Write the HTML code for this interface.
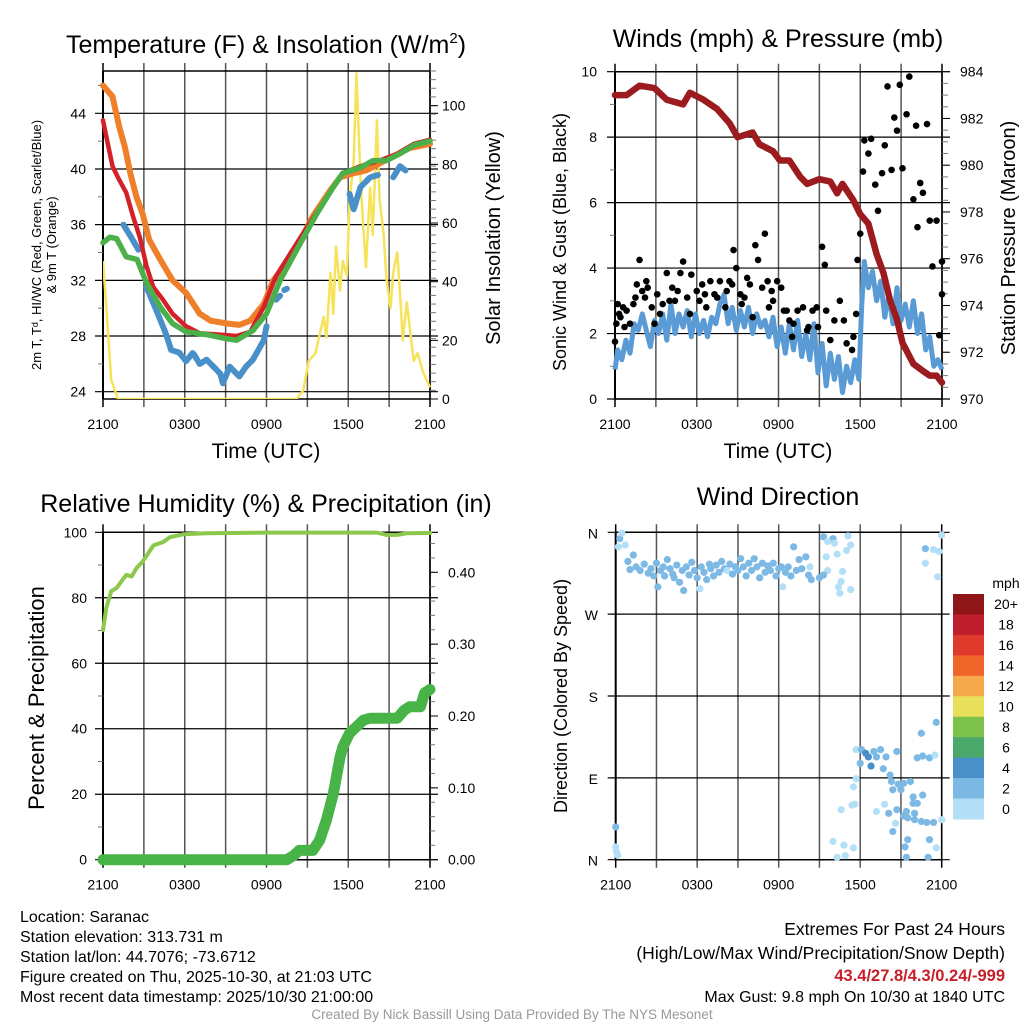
<!DOCTYPE html>
<html><head><meta charset="utf-8"><style>
html,body{margin:0;padding:0;background:#fff}
svg{display:block;font-family:"Liberation Sans",sans-serif}
</style></head><body>
<svg id="s" width="1024" height="1024" viewBox="0 0 1024 1024">
<rect width="1024" height="1024" fill="#fff"/>
<g id="g"></g>
</svg>
<script>
// ---- data (hours after 2100 UTC) ----
const timeLabels=["2100","0300","0900","1500","2100"];
const tempTicks=[24,28,32,36,40,44];
const solarTicks=[0,20,40,60,80,100];
const windTicks=[0,2,4,6,8,10];
const presTicks=[970,972,974,976,978,980,982,984];
const rhTicks=[0,20,40,60,80,100];
const precipTicks=["0.00","0.10","0.20","0.30","0.40"];
const dirLabels=["N","W","S","E","N"];
const legendLabels=["20+","18","16","14","12","10","8","6","4","2","0"];

const orangeH=[0,0.7,1.2,1.6,2.0,2.45,2.9,3.4,4.2,5.1,6.1,7.1,7.9,9.1,10.0,10.8,11.8,12.5,13.5,14.5,15.4,16.7,17.4,18.4,19.3,20.3,21.3,22.5,24];
const orangeT=[46.0,45.2,43.0,41.6,39.7,38.0,36.8,34.9,33.5,32.0,31.1,29.6,29.1,28.9,28.8,29.1,30.3,32.0,33.2,34.9,36.6,38.5,39.4,39.7,39.9,40.4,40.9,41.5,41.8];
const redH=[0,0.25,0.7,1.2,1.7,2.2,2.7,3.2,3.7,4.4,5.1,6.1,7.1,8.6,9.8,10.8,11.8,12.7,14.5,16.9,17.6,18.9,20.3,21.6,22.8,24];
const redT=[43.5,42.3,40.2,39.2,38.3,36.6,35.1,33.0,31.5,30.6,29.6,28.7,28.2,28.1,28.0,28.3,30.1,32.3,35.1,38.7,39.7,40.2,40.6,41.1,41.8,42.1];
const greenH=[0,0.5,1.0,1.7,2.5,3.2,4.2,5.1,6.1,7.6,9.1,9.8,11.0,12.0,13.0,14.5,15.7,16.9,17.6,18.9,19.8,20.8,21.8,22.8,24];
const greenT=[34.7,35.1,35.0,33.7,33.5,31.8,30.1,28.9,28.3,28.1,27.8,27.7,28.4,29.6,32.0,34.7,36.8,38.7,39.7,40.1,40.6,40.6,41.1,41.7,42.0];
const blueH=[1.5,2.0,2.6,null,3.2,3.9,4.6,5.0,5.6,6.1,6.6,7.1,7.6,8.1,8.6,8.8,9.3,10.0,10.5,11.0,11.8,12.0,null,12.7,13.0,null,13.3,13.5,null,18.1,18.4,18.9,19.6,20.3,null,21.3,21.8,22.2];
const blueT=[36.0,35.2,34.2,null,31.5,29.9,28.2,27.0,26.8,26.2,26.8,26.0,26.3,25.8,25.3,24.6,25.8,25.1,25.8,26.3,27.7,28.7,null,30.6,30.9,null,31.3,31.4,null,38.2,37.1,38.7,39.4,39.6,null,39.4,40.2,39.9];
const solarH=[0,0.25,0.6,1.1,14.2,14.7,15.1,15.6,15.9,16.2,16.4,16.7,16.9,17.1,17.4,17.6,17.9,18.1,18.4,18.6,18.9,19.1,19.3,19.6,19.8,20.1,20.3,20.6,20.8,21.1,21.3,21.6,21.8,22.0,22.3,22.8,23.1,23.5,24];
const solarV=[47,31,6.5,0,0,3,13,15.6,22,28,21,43,29,52,37,47,42,68,81,111,75,59,45,72,56,95,68,56,41,31,43,50,36,20,33,13,15.6,9,4];

const presH=[0,0.85,1.8,2.9,3.8,5.0,5.5,6.5,7.5,8.4,9.0,10.1,10.6,11.6,12.1,12.8,13.6,14.1,15.0,15.8,16.3,16.7,17.5,18.0,18.6,19.2,19.7,20.2,20.7,21.1,21.9,22.6,23.1,23.6,24];
const presV=[983.0,983.0,983.4,983.3,982.8,982.6,983.1,982.8,982.4,981.8,981.2,981.4,980.9,980.6,980.2,980.2,979.5,979.2,979.4,979.3,978.8,979.2,978.5,977.9,977.5,976.2,975.4,974.2,973.4,972.4,971.5,971.2,971.0,971.0,970.7];
const windH=[0,0.2,0.5,0.8,1.1,1.4,1.7,2.0,2.3,2.6,2.9,3.2,3.5,3.8,4.1,4.4,4.7,5.0,5.3,5.6,5.9,6.2,6.5,6.8,7.1,7.4,7.7,8.0,8.3,8.6,8.9,9.2,9.5,9.8,10.1,10.4,10.7,11.0,11.3,11.6,11.9,12.2,12.5,12.8,13.1,13.4,13.7,14.0,14.3,14.6,14.9,15.2,15.5,15.8,16.1,16.4,16.7,17.0,17.3,17.6,17.9,18.1,18.3,18.6,18.9,19.2,19.5,19.8,20.1,20.4,20.7,21.0,21.3,21.6,21.9,22.2,22.5,22.8,23.1,23.4,23.7,24];
const windV=[0.9,1.5,1.2,1.8,1.4,2.3,2.1,2.6,2.1,1.6,2.4,2.0,2.6,1.8,2.9,2.0,2.6,2.2,2.7,1.9,2.6,2.0,2.4,1.9,2.5,2.3,2.9,3.2,2.3,2.8,2.1,2.7,2.2,2.8,2.0,2.6,2.2,2.4,1.9,2.5,1.6,2.2,1.4,2.3,1.5,2.4,1.3,2.0,1.2,2.3,0.8,1.7,0.4,1.4,0.6,1.3,0.2,1.0,0.5,1.2,0.6,2.8,4.2,3.4,3.9,3.0,3.6,2.5,3.2,2.3,3.4,2.4,2.9,2.2,3.0,2.0,2.6,1.5,1.9,1.0,1.2,0.9];
const gustH=[0,0.1,0.2,0.4,0.6,0.85,1.1,1.35,1.6,1.8,2.0,2.2,2.4,2.7,2.9,3.1,3.3,3.8,4.0,4.4,4.6,4.8,5.0,5.3,5.6,6.0,6.2,6.6,6.7,7.0,7.3,7.7,8.1,8.2,8.4,8.7,8.9,9.2,9.5,9.7,9.9,10.3,10.5,10.8,11.0,11.2,11.5,11.6,11.9,12.2,12.6,12.8,13.1,13.4,13.8,14.1,14.2,14.5,14.8,14.9,15.2,15.4,15.5,15.8,16.1,16.5,16.8,17.0,17.4,17.5,17.7,17.8,18.0,18.2,18.3,18.6,18.8,19.1,19.3,19.6,19.8,20.0,20.3,20.5,20.7,20.9,21.1,21.4,21.6,21.9,22.1,22.2,22.4,22.6,22.9,23.1,23.3,23.6,23.8,24,24,0.3,0.7,1.5,2.3,3.5,4.2,5.5,6.4,7.5,8.6,9.3,10.1,11.3,12.4,13.0];
const gustV=[1.75,2.3,2.9,2.5,2.8,2.7,2.3,2.9,3.5,4.25,3.3,3.1,3.4,2.8,2.3,3.2,2.6,3.85,3.0,3.0,3.3,3.85,4.2,3.1,3.8,3.3,3.0,3.2,2.8,3.6,3.2,3.6,2.8,3.3,3.6,4.55,4.0,3.2,3.1,3.7,3.5,4.7,4.25,3.4,5.05,3.6,3.3,3.0,3.6,3.4,2.7,2.4,2.3,2.7,2.8,2.1,2.2,2.7,2.8,2.2,4.65,4.1,2.7,1.8,2.4,3.0,2.4,1.7,1.5,1.9,2.6,4.25,5.05,6.95,7.9,7.5,7.95,6.55,5.75,6.9,7.75,9.55,7.0,8.6,8.2,9.6,7.05,8.7,9.85,6.1,8.35,5.25,6.6,6.3,8.4,5.45,4.05,5.45,1.95,3.2,4.2,2.6,2.2,3.1,3.6,2.9,3.4,2.6,3.5,3.1,3.5,2.9,2.5,2.8,2.7,1.9];

const rhH=[0,0.25,0.6,1.0,1.35,1.7,2.1,2.45,2.9,3.3,3.7,4.4,4.9,5.9,7.6,12,20.1,20.8,21.6,22.3,24];
const rhV=[70.2,77,82,83,85,87,86.5,89,91,93.5,96,97,98.5,99.4,99.7,99.9,99.9,99.2,99.2,99.7,99.8];
const prH=[0,13.5,14.0,14.4,15.4,15.9,16.4,16.9,17.4,17.6,18.1,18.6,19.1,19.6,21.6,22.1,22.5,23.3,23.6,24];
const prV=[0,0,0.006,0.013,0.013,0.027,0.055,0.092,0.143,0.157,0.176,0.185,0.194,0.197,0.197,0.208,0.213,0.213,0.232,0.237];

const dirH=[0.3,0.2,0.7,0.45,0.9,1.3,1.05,1.5,1.8,2.1,2.4,2.6,2.8,3.0,3.1,3.3,3.5,3.6,3.8,4.0,4.2,4.3,4.5,4.7,4.9,5.0,5.2,5.4,5.6,5.8,6.0,6.2,6.3,6.5,6.7,6.9,7.0,7.2,7.4,7.6,7.8,8.0,8.2,8.4,8.6,8.8,9.0,9.2,9.4,9.6,9.8,10.0,10.2,10.4,10.6,10.8,11.0,11.2,11.4,11.6,11.8,12.0,12.2,12.3,12.5,12.7,12.9,13.1,13.3,13.5,13.7,14.0,14.2,14.3,14.4,15.3,16.0,15.6,16.1,17.1,17.3,17.0,16.3,15.5,15.6,16.7,15.3,15.0,16.6,16.4,16.5,17.3,22.8,23.4,23.8,24,22.8,23.7,0,0,0.05,0.15,17.7,18.1,18.4,18.6,18.8,18.0,19.0,19.5,19.2,19.9,19.7,20.2,20.7,20.3,20.8,20.4,21.0,21.2,21.7,21.9,22.2,22.6,21.9,22.5,22.2,22.6,23.1,23.6,23.5,19.8,20.1,20.7,21.4,21.2,21.5,22.0,22.0,22.5,22.9,23.4,24,20.6,20.4,21.5,21.3,21.4,23.0,23.1,23.6,19.2,17.5,17.7,17.4,17.6,16.6,16.0,16.8,17.5,16.3,16.9];
const dirDeg=[353,344,346,359,328,335,319,322,318,325,315,320,312,326,300,318,322,312,330,320,314,310,324,305,318,296,322,313,327,318,310,298,322,316,308,325,320,312,324,316,328,320,318,325,314,322,318,331,322,312,326,318,331,322,310,326,316,323,318,326,312,320,322,300,316,322,312,344,318,330,320,333,313,322,308,355,353,350,348,356,346,340,336,333,318,317,313,310,306,300,293,297,342,341,339,357,326,311,36,14,9,5,121,121,117,113,103,106,119,121,113,113,100,93,119,86,83,77,77,84,86,69,62,71,62,139,112,114,112,151,115,61,51,55,53,48,46,51,44,42,41,41,44,40,31,22,14,2.6,2.6,22,13,53,80,89,60,61,55,20,16,13,2.6,4.4];
const dirSpd=[2,0,0,0,2,2,2,2,2,2,2,2,2,2,2,2,2,2,2,2,2,2,2,2,2,2,2,2,2,2,2,0,2,2,2,2,2,2,2,2,2,2,0,2,2,2,2,2,2,2,2,2,2,2,2,2,2,2,2,2,2,2,2,0,2,2,2,3,2,2,2,2,2,0,2,2,2,0,0,0,0,0,0,0,0,0,2,2,0,0,0,0,2,0,0,0,0,0,2,0,0,0,0,2,4,4,4,2,2,2,2,2,2,2,2,2,2,2,2,2,2,2,2,2,2,2,2,2,2,2,0,0,2,2,2,2,2,2,2,2,2,2,0,0,2,2,2,2,2,2,0,0,0,0,0,0,0,0,0,0,0,0,0,0];
</script>
<script>
const NS="http://www.w3.org/2000/svg";
const G=document.getElementById('g');
function el(tag,attrs,parent,txt){const e=document.createElementNS(NS,tag);for(const k in attrs)e.setAttribute(k,attrs[k]);if(txt!==undefined)e.textContent=txt;(parent||G).appendChild(e);return e;}
function lin(d0,d1,r0,r1){return v=>r0+(v-d0)*(r1-r0)/(d1-d0);}
function pathFrom(xs,ys,fx,fy){let d="",pen=false;for(let i=0;i<xs.length;i++){if(xs[i]===null||ys[i]===null){pen=false;continue;}d+=(pen?"L":"M")+fx(xs[i]).toFixed(1)+","+fy(ys[i]).toFixed(1);pen=true;}return d;}
function spdColor(c){return ["#b3e0f7","#b3e0f7","#7cb9e4","#7cb9e4","#4a90c8"][c];}

function frame(L,R,T,B,name,hLinesY){
  const g=el('g',{});
  
  
  for(let i=0;i<=8;i++){const x=L+(R-L)*i/8;el('line',{x1:x,x2:x,y1:T-8,y2:B+8,stroke:(i==0||i==8)?'#000':'#555','stroke-width':1.5},g);}
  hLinesY.forEach(y=>el('line',{x1:L-8,x2:R+8,y1:y,y2:y,stroke:'#000','stroke-width':1.2},g));
  el('line',{x1:L,x2:R,y1:T,y2:T,stroke:'#000','stroke-width':1.5},g);
  el('line',{x1:L,x2:R,y1:B,y2:B,stroke:'#000','stroke-width':1.5},g);
  el('line',{x1:L,x2:L,y1:T,y2:B,stroke:'#000','stroke-width':2},g);
  el('line',{x1:R,x2:R,y1:T,y2:B,stroke:'#000','stroke-width':1.5},g);
  const tl=el('g',{});
  
  
  timeLabels.forEach((t,i)=>{el('text',{x:L+(R-L)*i/4,y:B+30,'font-size':14,'text-anchor':'middle'},tl,t);});
}
function minorTicks(x,T,B,n,dir){for(let i=0;i<=n;i++){const y=T+(B-T)*i/n;el('line',{x1:x,x2:x+dir*6,y1:y,y2:y,stroke:'#777','stroke-width':1});}}
function text(x,y,s,size,name,extra){const t=el('text',Object.assign({x:x,y:y,'font-size':size,'text-anchor':'middle'},extra||{}),G,s);return t;}

// ===== Panel 1 =====
(function(){
 const L=103,R=430,T=71,B=399;
 const fx=lin(0,24,L,R), fy=lin(24,44,391.7,113.3), fs=lin(0,100,399,105.7);
 frame(L,R,T,B,'temp-panel',tempTicks.map(fy));
 minorTicks(R,T,B,38,1);
 for(let v=26;v<=46;v+=4)el('line',{x1:L,x2:L-5,y1:fy(v),y2:fy(v),stroke:'#777'});
 tempTicks.forEach(v=>{const t=el('text',{x:86,y:fy(v)+5,'font-size':14,'text-anchor':'end'},G,v);});
 solarTicks.forEach(v=>{el('line',{x1:R,x2:R+8,y1:fs(v),y2:fs(v),stroke:'#000'});const t=el('text',{x:442,y:fs(v)+5,'font-size':14},G,v);});
 const clip=el('clipPath',{id:'c1'});el('rect',{x:L,y:T-2,width:R-L+4,height:B-T+2},clip);
 const sp=el('path',{d:pathFrom(solarH,solarV,fx,fs),fill:'none',stroke:'#f7e35a','stroke-width':2.5,'stroke-linejoin':'round','clip-path':'url(#c1)'});
 
 const bp=el('path',{d:pathFrom(blueH,blueT,fx,fy),fill:'none',stroke:'#4a90c8','stroke-width':6,'stroke-linejoin':'round','stroke-linecap':'round','stroke-dasharray':'7 2'});
 
 const op=el('path',{d:pathFrom(orangeH,orangeT,fx,fy),fill:'none',stroke:'#f07f2a','stroke-width':6,'stroke-linejoin':'round','stroke-linecap':'round'});
 
 const rp=el('path',{d:pathFrom(redH,redT,fx,fy),fill:'none',stroke:'#d42027','stroke-width':4.5,'stroke-linejoin':'round','stroke-linecap':'round'});
 
 const gp=el('path',{d:pathFrom(greenH,greenT,fx,fy),fill:'none',stroke:'#4bb04a','stroke-width':5.5,'stroke-linejoin':'round','stroke-linecap':'round'});
 
 const tt=text(266,53,'',25,'temp-panel-title');tt.innerHTML='Temperature (F) &amp; Insolation (W/m<tspan dy="-10" font-size="15">2</tspan><tspan dy="10">)</tspan>';
 text(266,458,'Time (UTC)',21,'temp-x-axis-title');
 text(0,0,'2m T, T\u1d48, HI/WC (Red, Green, Scarlet/Blue)',13,'temp-y-axis-title',{transform:'translate(41,245) rotate(-90)'});
 text(0,0,'& 9m T (Orange)',13,'temp-y-axis-title-2',{transform:'translate(56,245) rotate(-90)'});
 text(0,0,'Solar Insolation (Yellow)',20,'solar-y-axis-title',{transform:'translate(500,238) rotate(-90)'});
})();

// ===== Panel 2 =====
(function(){
 const L=615,R=942,T=71.7,B=399;
 const fx=lin(0,24,L,R), fy=lin(0,10,B,T), fp=lin(970,984,B,T);
 frame(L,R,T,B,'wind-panel',windTicks.map(fy));
 minorTicks(R,T,B,28,1);
 for(let v=1;v<10;v+=2)el('line',{x1:L,x2:L-5,y1:fy(v),y2:fy(v),stroke:'#777'});
 windTicks.forEach(v=>{const t=el('text',{x:597,y:fy(v)+5,'font-size':14,'text-anchor':'end'},G,v);});
 presTicks.forEach(v=>{el('line',{x1:R,x2:R+8,y1:fp(v),y2:fp(v),stroke:'#000'});const t=el('text',{x:960,y:fp(v)+5,'font-size':14},G,v);});
 const wp=el('path',{d:pathFrom(windH,windV,fx,fy),fill:'none',stroke:'#5b9bd5','stroke-width':5,'stroke-linejoin':'round'});
 
 const pp=el('path',{d:pathFrom(presH,presV,fx,fp),fill:'none',stroke:'#9b1b1e','stroke-width':6.5,'stroke-linejoin':'round','stroke-linecap':'round'});
 
 gustH.forEach((h,i)=>{const c=el('circle',{cx:fx(h),cy:fy(gustV[i]),r:3.3,fill:'#000'});
  
  });
 text(778,47,'Winds (mph) & Pressure (mb)',25,'wind-panel-title');
 text(778,458,'Time (UTC)',21,'wind-x-axis-title');
 text(0,0,'Sonic Wind & Gust (Blue, Black)',18,'wind-y-axis-title',{transform:'translate(566,242) rotate(-90)'});
 text(0,0,'Station Pressure (Maroon)',20,'pressure-y-axis-title',{transform:'translate(1015,238) rotate(-90)'});
})();

// ===== Panel 3 =====
(function(){
 const L=103,R=430,T=532.3,B=859.7;
 const fx=lin(0,24,L,R), fy=lin(0,100,B,T), fp=lin(0,0.4,B,572.3);
 frame(L,R,T,B,'rh-panel',rhTicks.map(fy));
 for(let v=10;v<100;v+=20)el('line',{x1:L,x2:L-5,y1:fy(v),y2:fy(v),stroke:'#777'});
 for(let v=0.02;v<0.45;v+=0.02)el('line',{x1:R,x2:R+5,y1:fp(v),y2:fp(v),stroke:'#777'});
 rhTicks.forEach(v=>{const t=el('text',{x:87,y:fy(v)+5,'font-size':14,'text-anchor':'end'},G,v);});
 precipTicks.forEach(v=>{const y=fp(parseFloat(v));el('line',{x1:R,x2:R+8,y1:y,y2:y,stroke:'#000'});const t=el('text',{x:448,y:y+5,'font-size':14},G,v);});
 const rp=el('path',{d:pathFrom(rhH,rhV,fx,fy),fill:'none',stroke:'#8cc84b','stroke-width':4,'stroke-linejoin':'round','stroke-linecap':'round'});
 
 const pp=el('path',{d:pathFrom(prH,prV,fx,fp),fill:'none',stroke:'#48b448','stroke-width':11,'stroke-linejoin':'round','stroke-linecap':'round'});
 
 text(266,512,'Relative Humidity (%) & Precipitation (in)',25,'rh-panel-title');
 text(0,0,'Percent & Precipitation',22,'rh-y-axis-title',{transform:'translate(44,698) rotate(-90)'});
})();

// ===== Panel 4 =====
(function(){
 const L=615.7,R=941.7,T=532.3,B=859.7;
 const fx=lin(0,24,L,R), fy=lin(0,360,B,T);
 frame(L,R,T,B,'direction-panel',[0,90,180,270,360].map(fy));
 dirLabels.forEach((s,i)=>{const t=el('text',{x:598,y:fy(360-i*90)+6,'font-size':14,'text-anchor':'end'},G,s);});
 dirH.forEach((h,i)=>{const c=el('circle',{cx:fx(h),cy:fy(dirDeg[i]),r:3.6,fill:spdColor(dirSpd[i])});
  
  });
 text(778,505,'Wind Direction',25,'direction-panel-title');
 text(0,0,'Direction (Colored By Speed)',18,'direction-y-axis-title',{transform:'translate(567,696) rotate(-90)'});
 const cols=["#8e1619","#bf1e2d","#e03a2c","#ef6429","#f5a94a","#e8e05a","#7dc24b","#4aa86b","#4a90c8","#7cb9e4","#b3e0f7"];
 const lg=el('g',{});
 
 
 const y0=594,h=(819-594)/11;
 legendLabels.forEach((s,i)=>{el('rect',{x:953,y:y0+i*h,width:31,height:h+0.5,fill:cols[i]},lg);el('text',{x:1006,y:y0+i*h+h/2+5,'font-size':14,'text-anchor':'middle'},lg,s);});
 el('text',{x:1006,y:588,'font-size':14,'text-anchor':'middle'},lg,'mph');
})();

// ===== Footer =====
const info=["Location: Saranac","Station elevation: 313.731 m","Station lat/lon: 44.7076; -73.6712","Figure created on Thu, 2025-10-30, at 21:03 UTC","Most recent data timestamp: 2025/10/30 21:00:00"];
info.forEach((s,i)=>{const t=el('text',{x:20,y:922+i*20,'font-size':16},G,s);});
text(1005,935,'Extremes For Past 24 Hours',17.5,'extremes-title',{'text-anchor':'end'});
text(1005,959,'(High/Low/Max Wind/Precipitation/Snow Depth)',17.5,'extremes-subtitle',{'text-anchor':'end'});
text(1005,981,'43.4/27.8/4.3/0.24/-999',16.5,'extremes-values',{'text-anchor':'end','fill':'#c8202a','font-weight':'bold'});
text(1005,1002,'Max Gust: 9.8 mph On 10/30 at 1840 UTC',16,'max-gust',{'text-anchor':'end'});
text(512,1019,'Created By Nick Bassill Using Data Provided By The NYS Mesonet',13.5,'credit',{fill:'#999'});
</script>
</body></html>
